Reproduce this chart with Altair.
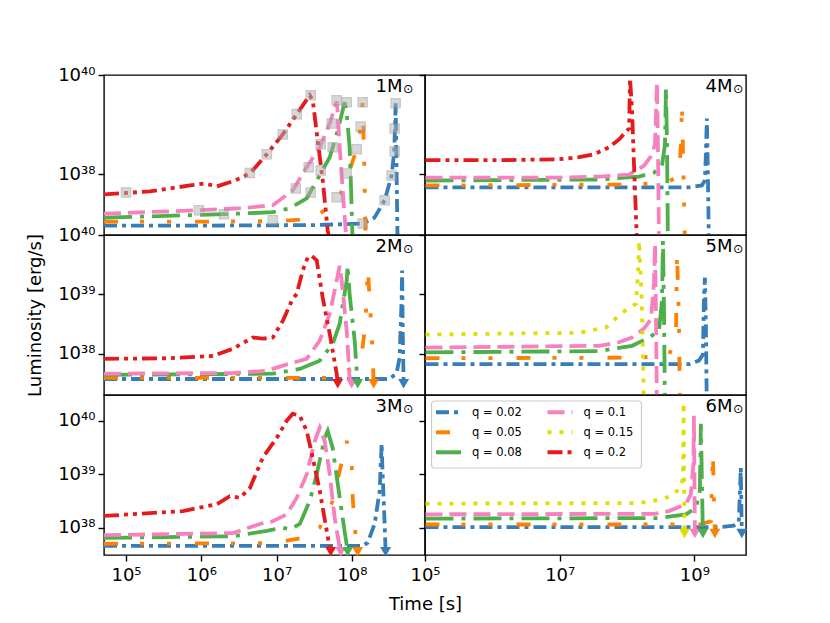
import altair as alt
import pandas as pd

# ---------------- series: q values, colours, dash styles ----------------
Q_ORDER = ["0.02", "0.05", "0.08", "0.1", "0.15", "0.2"]
Q_COLORS = ["#377eb8", "#ff7f00", "#4daf4a", "#f781bf", "#dede00", "#e41a1c"]
Q_DASHES = [[13, 5, 4, 5], [14, 22, 4, 23, 4, 24], [28, 8, 4, 8], [17, 7], [4, 8], [15, 5, 4, 5, 4, 5]]

# ---------------- data (log10 time [s], log10 luminosity [erg/s]) ----------------
# 1 Msun
t_1M_002 = [4.708, 6.0, 7.5, 8.143, 8.30, 8.435, 8.528, 8.562, 8.572, 8.581, 8.594, 8.607]
L_1M_002 = [36.96, 36.96, 36.97, 37.00, 37.12, 37.47, 37.97, 38.46, 38.92, 39.43, 38.00, 36.60]
t_1M_005 = [4.708, 6.0, 7.0, 7.308, 7.55, 7.679, 7.85, 7.931, 8.064, 8.117, 8.143, 8.163, 8.183]
L_1M_005 = [37.04, 37.04, 37.05, 37.08, 37.18, 37.31, 37.60, 37.91, 38.50, 38.96, 39.45, 38.30, 36.60]
t_1M_008 = [4.708, 6.30, 6.95, 7.175, 7.40, 7.533, 7.706, 7.812, 7.904, 7.93, 7.97, 7.99, 8.01]
L_1M_008 = [37.12, 37.19, 37.23, 37.31, 37.51, 37.87, 38.34, 38.88, 39.45, 39.25, 38.54, 37.67, 36.60]
t_1M_010 = [4.708, 5.968, 6.51, 6.95, 7.215, 7.40, 7.573, 7.706, 7.798, 7.812, 7.838, 7.878, 7.931]
L_1M_010 = [37.20, 37.27, 37.31, 37.37, 37.67, 38.14, 38.54, 39.02, 39.47, 39.23, 38.54, 37.67, 36.60]
t_1M_020 = [4.708, 5.318, 5.849, 6.048, 6.207, 6.446, 6.645, 6.870, 7.082, 7.268, 7.440, 7.480, 7.546, 7.613, 7.679, 7.706]
L_1M_020 = [37.59, 37.65, 37.77, 37.81, 37.75, 37.87, 38.01, 38.40, 38.80, 39.21, 39.59, 39.49, 38.68, 37.87, 36.86, 36.66]
sq_t_1M = [5.0, 5.968, 6.30, 6.645, 6.870, 7.082, 7.268, 7.454, 6.95, 7.255, 7.427, 7.454, 7.586, 7.586, 7.732,
           7.798, 7.931, 7.745, 7.931, 7.798, 8.143, 8.117, 8.064, 8.143, 8.435, 8.528, 8.568, 8.568, 8.581]
sq_L_1M = [37.63, 37.27, 37.19, 38.02, 38.40, 38.80, 39.21, 39.59, 37.07, 37.71, 38.14, 37.63, 38.60, 38.07, 39.02,
           39.49, 39.45, 38.54, 38.01, 37.53, 39.45, 38.96, 38.50, 37.00, 37.47, 37.97, 38.46, 38.92, 39.43]

# 4 Msun
t_4M_002 = [5.007, 8.919, 9.111, 9.156, 9.170, 9.185, 9.200, 9.215]
L_4M_002 = [37.73, 37.73, 37.77, 37.87, 38.40, 39.12, 38.00, 36.60]
t_4M_005 = [5.007, 8.178, 8.622, 8.770, 8.800, 8.815, 8.830, 8.859]
L_4M_005 = [37.77, 37.79, 37.85, 37.97, 38.60, 39.43, 38.50, 36.60]
t_4M_008 = [5.007, 7.585, 8.178, 8.400, 8.519, 8.563, 8.578, 8.593, 8.607]
L_4M_008 = [37.87, 37.89, 37.95, 38.03, 38.17, 38.60, 39.73, 38.60, 36.60]
t_4M_010 = [5.007, 7.0, 7.585, 8.030, 8.252, 8.356, 8.415, 8.444, 8.459, 8.474]
L_4M_010 = [37.93, 37.93, 37.95, 37.99, 38.17, 38.36, 38.60, 39.85, 38.50, 36.60]
t_4M_020 = [5.007, 6.104, 6.993, 7.289, 7.511, 7.733, 7.881, 7.960, 8.030, 8.044, 8.074, 8.100, 8.148]
L_4M_020 = [38.28, 38.28, 38.30, 38.34, 38.40, 38.54, 38.70, 38.82, 38.92, 39.93, 39.30, 38.30, 36.60]

# 2 Msun
t_2M_002 = [4.708, 8.501, 8.594, 8.634, 8.660, 8.667, 8.674, 8.687]
L_2M_002 = [37.57, 37.57, 37.67, 37.93, 38.89, 39.40, 38.50, 37.49]
t_2M_005 = [4.708, 7.745, 8.010, 8.130, 8.170, 8.196, 8.210, 8.236, 8.276, 8.289]
L_2M_005 = [37.59, 37.59, 37.76, 38.00, 38.38, 38.89, 39.45, 38.94, 38.00, 37.49]
t_2M_008 = [4.708, 6.950, 7.308, 7.573, 7.745, 7.838, 7.931, 7.944, 7.970, 8.037, 8.070, 8.077]
L_2M_008 = [37.64, 37.66, 37.74, 37.88, 38.16, 38.50, 39.23, 39.48, 39.00, 38.22, 37.59, 37.49]
t_2M_010 = [4.708, 6.419, 6.870, 7.175, 7.400, 7.573, 7.706, 7.798, 7.838, 7.865, 7.931, 7.970, 7.997]
L_2M_010 = [37.66, 37.67, 37.71, 37.83, 37.91, 38.22, 38.67, 39.23, 39.48, 39.23, 38.38, 37.59, 37.49]
t_2M_020 = [4.708, 5.544, 6.154, 6.419, 6.684, 6.817, 6.950, 7.082, 7.202, 7.268, 7.347, 7.414, 7.467, 7.533,
            7.613, 7.706, 7.798, 7.812]
L_2M_020 = [37.91, 37.92, 37.96, 38.08, 38.27, 38.25, 38.27, 38.55, 38.89, 39.01, 39.40, 39.62, 39.65, 39.57,
            38.94, 38.33, 37.66, 37.49]
tri_q_2M = ["0.2", "0.1", "0.08", "0.05", "0.02"]
tri_t_2M = [7.812, 7.997, 8.077, 8.289, 8.687]
tri_L_2M = [37.49, 37.49, 37.49, 37.49, 37.49]

# 5 Msun
t_5M_002 = [5.007, 8.919, 9.067, 9.126, 9.141, 9.156, 9.170, 9.185]
L_5M_002 = [37.82, 37.82, 37.88, 37.98, 38.90, 39.28, 38.50, 37.00]
t_5M_005 = [5.007, 8.178, 8.622, 8.726, 8.741, 8.770, 8.785]
L_5M_005 = [37.92, 37.93, 37.97, 38.30, 39.73, 38.60, 37.00]
t_5M_008 = [5.007, 7.585, 8.074, 8.326, 8.474, 8.519, 8.533, 8.548, 8.563]
L_5M_008 = [38.02, 38.04, 38.13, 38.27, 38.38, 38.90, 39.90, 38.80, 37.00]
t_5M_010 = [5.007, 7.585, 7.881, 8.074, 8.252, 8.356, 8.400, 8.415, 8.430, 8.444]
L_5M_010 = [38.10, 38.13, 38.19, 38.27, 38.42, 38.58, 39.20, 39.85, 38.60, 37.00]
t_5M_015 = [5.007, 7.289, 7.689, 7.926, 8.133, 8.170, 8.178, 8.215, 8.237, 8.252]
L_5M_015 = [38.32, 38.35, 38.44, 38.69, 38.84, 39.50, 39.90, 39.00, 38.00, 37.00]

# 3 Msun
t_3M_002 = [4.708, 8.143, 8.210, 8.302, 8.369, 8.395, 8.408, 8.435, 8.448]
L_3M_002 = [37.66, 37.66, 37.72, 38.07, 38.69, 39.57, 39.00, 38.07, 37.55]
t_3M_005 = [4.708, 6.950, 7.347, 7.573, 7.745, 7.931, 7.997, 8.010, 8.037, 8.064, 8.077]
L_3M_005 = [37.70, 37.71, 37.81, 38.00, 38.50, 39.62, 39.25, 38.56, 38.07, 37.62, 37.55]
t_3M_008 = [4.708, 6.419, 6.870, 7.082, 7.175, 7.308, 7.440, 7.533, 7.639, 7.679, 7.745, 7.812, 7.878, 7.944]
L_3M_008 = [37.81, 37.84, 37.94, 38.00, 37.97, 38.07, 38.50, 39.00, 39.68, 39.81, 39.49, 38.82, 38.18, 37.55]
t_3M_010 = [4.708, 6.419, 6.777, 6.950, 7.135, 7.268, 7.400, 7.507, 7.573, 7.639, 7.706, 7.772, 7.838, 7.851]
L_3M_010 = [37.86, 37.90, 38.07, 38.12, 38.25, 38.56, 39.00, 39.62, 39.87, 39.62, 39.00, 38.18, 37.62, 37.55]
t_3M_020 = [4.708, 5.756, 6.207, 6.379, 6.512, 6.645, 6.817, 7.003, 7.135, 7.215, 7.308, 7.400, 7.480, 7.573,
            7.666, 7.706, 7.719]
L_3M_020 = [38.22, 38.31, 38.44, 38.59, 38.56, 38.74, 39.31, 39.68, 40.00, 40.13, 40.09, 39.81, 39.31, 38.69,
            37.94, 37.62, 37.55]
tri_q_3M = ["0.2", "0.1", "0.08", "0.05", "0.02"]
tri_t_3M = [7.719, 7.851, 7.944, 8.077, 8.448]
tri_L_3M = [37.55, 37.55, 37.55, 37.55, 37.55]

# 6 Msun
t_6M_002 = [5.007, 9.363, 9.585, 9.659, 9.689, 9.696, 9.704]
L_6M_002 = [38.01, 38.01, 38.04, 38.11, 39.12, 38.50, 37.89]
t_6M_005 = [5.007, 9.067, 9.244, 9.274, 9.289, 9.304]
L_6M_005 = [38.06, 38.06, 38.12, 39.41, 38.60, 37.89]
t_6M_008 = [5.007, 8.474, 8.874, 9.022, 9.081, 9.096, 9.111, 9.126]
L_6M_008 = [38.17, 38.18, 38.25, 38.37, 38.69, 39.94, 38.90, 37.89]
t_6M_010 = [5.007, 8.400, 8.622, 8.874, 8.948, 8.985, 8.993, 9.000, 9.007]
L_6M_010 = [38.25, 38.26, 38.31, 38.44, 38.63, 39.20, 40.09, 39.00, 37.89]
t_6M_015 = [5.007, 8.178, 8.474, 8.652, 8.800, 8.830, 8.840, 8.846, 8.852]
L_6M_015 = [38.45, 38.46, 38.52, 38.59, 38.75, 38.95, 40.34, 39.20, 37.89]
tri_q_6M = ["0.15", "0.1", "0.08", "0.05", "0.02"]
tri_t_6M = [8.852, 9.007, 9.126, 9.304, 9.704]
tri_L_6M = [37.89, 37.89, 37.89, 37.89, 37.89]

# axis ranges (log10) and ticks (exponents)
XDOM_LEFT = [4.708, 8.971]
XDOM_RIGHT = [5.0, 9.766]
YDOM_TOP = [36.77, 40.0]
YDOM_MID = [37.30, 40.0]
YDOM_BOT = [37.49, 40.48]
XTICKS_LEFT = [5, 6, 7, 8]
XTICKS_RIGHT = [5, 7, 9]
YTICKS_TOP = [38, 40]
YTICKS_OTHER = [38, 39, 40]

FONT = "DejaVu Sans"
W, H = 321, 160


def sup(n):
    return str(n).translate(str.maketrans("0123456789", "⁰¹²³⁴⁵⁶⁷⁸⁹"))


def label_expr(exps):
    expr = "'10%s'" % sup(exps[-1])
    for e in reversed(exps[:-1]):
        expr = "datum.value < %r ? '10%s' : (%s)" % (10.0 ** (e + 0.5), sup(e), expr)
    return expr


def series_df(series):
    rows = []
    for q, ts, Ls in series:
        for i, (a, b) in enumerate(zip(ts, Ls)):
            rows.append({"q": q, "t": 10.0 ** a, "L": 10.0 ** b, "i": i})
    return pd.DataFrame(rows)


def legend_layers():
    """Two-column framed legend drawn inside the panel (matplotlib style)."""
    frame = alt.Chart(pd.DataFrame({"k": [0]})).mark_rect(
        fill="white", fillOpacity=0.85, stroke="#cccccc", strokeWidth=1.2, cornerRadius=3).encode(
        x=alt.value(6.5), x2=alt.value(216.5), y=alt.value(6), y2=alt.value(73))
    out = [frame]
    for k, (q, col, dash) in enumerate(zip(Q_ORDER, Q_COLORS, Q_DASHES)):
        c, r = divmod(k, 3)
        x0 = 11 + 111.5 * c
        yc = 17.3 + 20 * r
        out.append(alt.Chart(pd.DataFrame({"q": [q]})).mark_rule(
            color=col, strokeWidth=4, strokeDash=dash, strokeCap="butt").encode(
            x=alt.value(x0), x2=alt.value(x0 + 25), y=alt.value(yc)))
        out.append(alt.Chart(pd.DataFrame({"s": ["q = " + q]})).mark_text(
            align="left", baseline="middle", fontSize=11.5, font=FONT, color="black").encode(
            x=alt.value(x0 + 36), y=alt.value(yc + 0.5), text="s:N"))
    return out


def make_panel(name, series, xdom, ydom, xticks, yticks, left, bottom,
               tri=None, squares=None, legend=False, ytitle=None, xtitle=None):
    if bottom:
        ax_kw = dict(values=[10.0 ** e for e in xticks], labelExpr=label_expr(xticks),
                     labelFlush=False, labelPadding=5)
        if xtitle:
            ax_kw.update(title=xtitle, titleX=321, titleY=54, titleBaseline="alphabetic",
                         titleAlign="center")
        else:
            ax_kw.update(title=None)
        xaxis = alt.Axis(**ax_kw)
    else:
        xaxis = None
    if left:
        ay_kw = dict(values=[10.0 ** e for e in yticks], labelExpr=label_expr(yticks), labelPadding=3)
        if ytitle:
            ay_kw.update(title=ytitle, titleX=-64, titleY=80, titleBaseline="alphabetic",
                         titleAlign="center", titleAngle=-90)
        else:
            ay_kw.update(title=None)
        yaxis = alt.Axis(**ay_kw)
    else:
        yaxis = alt.Axis(values=[10.0 ** e for e in yticks], labels=False, title=None)

    X = alt.X("t:Q", scale=alt.Scale(type="log", domain=[10.0 ** v for v in xdom], nice=False), axis=xaxis)
    Y = alt.Y("L:Q", scale=alt.Scale(type="log", domain=[10.0 ** v for v in ydom], nice=False), axis=yaxis)

    lines = alt.Chart(series_df(series)).mark_line(strokeWidth=3.8, clip=True).encode(
        x=X, y=Y,
        color=alt.Color("q:N", scale=alt.Scale(domain=Q_ORDER, range=Q_COLORS), legend=None),
        strokeDash=alt.StrokeDash("q:N", scale=alt.Scale(domain=Q_ORDER, range=Q_DASHES), legend=None),
        order=alt.Order("i:Q"),
    )
    layers = [lines]
    if squares is not None:
        sq = pd.DataFrame({"t": [10.0 ** v for v in squares[0]], "L": [10.0 ** v for v in squares[1]]})
        layers.append(alt.Chart(sq).mark_square(size=85, filled=True, fill="#b0b0b0", stroke="#909090",
                                                strokeWidth=1.3, opacity=0.5).encode(x=X, y=Y))
    if tri is not None:
        td = pd.DataFrame({"q": tri[0], "t": [10.0 ** v for v in tri[1]], "L": [10.0 ** v for v in tri[2]]})
        layers.append(alt.Chart(td).mark_point(shape="triangle-down", filled=True, size=120, opacity=1,
                                               strokeWidth=0).encode(
            x=X, y=Y,
            fill=alt.Fill("q:N", scale=alt.Scale(domain=Q_ORDER, range=Q_COLORS), legend=None)))
    if legend:
        layers += legend_layers()
    dx = 22.5 if left else 13.5
    lab = alt.Chart(pd.DataFrame({"s": [name]})).mark_text(
        align="right", baseline="alphabetic", fontSize=18, font=FONT, color="black").encode(
        x=alt.value(W - dx), y=alt.value(16.5), text="s:N")
    sun = alt.Chart(pd.DataFrame({"s": ["⊙"]})).mark_text(
        align="left", baseline="middle", fontSize=12.5, font=FONT, color="black").encode(
        x=alt.value(W - dx + 0.5), y=alt.value(14), text="s:N")
    layers += [lab, sun]
    return alt.layer(*layers).properties(width=W, height=H)


p1 = make_panel("1M", [("0.02", t_1M_002, L_1M_002), ("0.05", t_1M_005, L_1M_005), ("0.08", t_1M_008, L_1M_008),
                       ("0.1", t_1M_010, L_1M_010), ("0.2", t_1M_020, L_1M_020)],
                XDOM_LEFT, YDOM_TOP, XTICKS_LEFT, YTICKS_TOP, True, False, squares=(sq_t_1M, sq_L_1M))
p4 = make_panel("4M", [("0.02", t_4M_002, L_4M_002), ("0.05", t_4M_005, L_4M_005), ("0.08", t_4M_008, L_4M_008),
                       ("0.1", t_4M_010, L_4M_010), ("0.2", t_4M_020, L_4M_020)],
                XDOM_RIGHT, YDOM_TOP, XTICKS_RIGHT, YTICKS_TOP, False, False)
p2 = make_panel("2M", [("0.02", t_2M_002, L_2M_002), ("0.05", t_2M_005, L_2M_005), ("0.08", t_2M_008, L_2M_008),
                       ("0.1", t_2M_010, L_2M_010), ("0.2", t_2M_020, L_2M_020)],
                XDOM_LEFT, YDOM_MID, XTICKS_LEFT, YTICKS_OTHER, True, False,
                tri=(tri_q_2M, tri_t_2M, tri_L_2M), ytitle="Luminosity [erg/s]")
p5 = make_panel("5M", [("0.02", t_5M_002, L_5M_002), ("0.05", t_5M_005, L_5M_005), ("0.08", t_5M_008, L_5M_008),
                       ("0.1", t_5M_010, L_5M_010), ("0.15", t_5M_015, L_5M_015)],
                XDOM_RIGHT, YDOM_MID, XTICKS_RIGHT, YTICKS_OTHER, False, False)
p3 = make_panel("3M", [("0.02", t_3M_002, L_3M_002), ("0.05", t_3M_005, L_3M_005), ("0.08", t_3M_008, L_3M_008),
                       ("0.1", t_3M_010, L_3M_010), ("0.2", t_3M_020, L_3M_020)],
                XDOM_LEFT, YDOM_BOT, XTICKS_LEFT, YTICKS_OTHER, True, True,
                tri=(tri_q_3M, tri_t_3M, tri_L_3M), xtitle="Time [s]")
p6 = make_panel("6M", [("0.02", t_6M_002, L_6M_002), ("0.05", t_6M_005, L_6M_005), ("0.08", t_6M_008, L_6M_008),
                       ("0.1", t_6M_010, L_6M_010), ("0.15", t_6M_015, L_6M_015)],
                XDOM_RIGHT, YDOM_BOT, XTICKS_RIGHT, YTICKS_OTHER, False, True,
                tri=(tri_q_6M, tri_t_6M, tri_L_6M), legend=True)

chart = alt.concat(p1, p4, p2, p5, p3, p6, columns=2, spacing=0, bounds="flush").resolve_scale(
    x="independent", y="independent", color="independent", strokeDash="independent", fill="independent"
).properties(
    padding={"left": 17, "top": 57, "right": 5, "bottom": 5}
).configure(font=FONT).configure_view(
    stroke="black", strokeWidth=1.4
).configure_axis(
    labelFont=FONT, labelFontSize=18, labelColor="black", tickColor="black", tickWidth=1.4,
    tickSize=6, domain=False, grid=False, titleFont=FONT, titleFontSize=18,
    titleFontWeight="normal", titleColor="black"
)

chart.save("out.html", embed_options={"renderer": "svg", "actions": False})
